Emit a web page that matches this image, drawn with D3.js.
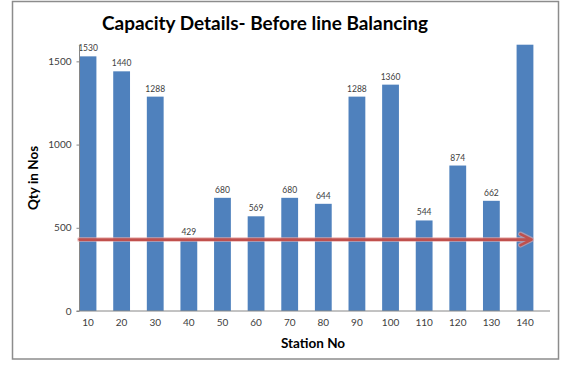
<!DOCTYPE html>
<html>
<head>
<meta charset="utf-8">
<script src="https://cdn.jsdelivr.net/npm/d3@7"></script>
<style>
  html, body { margin: 0; padding: 0; background: #fff; }
  svg { display: block; }
</style>
</head>
<body>
<svg id="chart" width="562" height="365"></svg>
<script>
// Station capacities before line balancing
const stations = ["10","20","30","40","50","60","70","80","90","100","110","120","130","140"];
const capacity = [1530,1440,1288,429,680,569,680,644,1288,1360,544,874,662,1600];
const yTicks = [0, 500, 1000, 1500];
const yMax = 1600;
const bottleneck = 429;   // lowest station capacity, drawn as the red arrow

const svg = d3.select("#chart");
const FONT = "Lato, 'Open Sans', sans-serif";

// outer chart frame
svg.append("rect")
  .attr("x", 12.5).attr("y", 1.5)
  .attr("width", 546).attr("height", 357.5)
  .attr("fill", "#fff").attr("stroke", "#8c8c8c").attr("stroke-width", 1.5);

const x = d3.scaleBand()
  .domain(stations)
  .range([71.2, 541.8])
  .paddingInner(0.5)
  .paddingOuter(0.25);

const y = d3.scaleLinear().domain([0, yMax]).range([311, 44.7]);

const axisX0 = 79.5, axisX1 = 550;

// bars
svg.append("g").selectAll("rect")
  .data(stations.map((s, i) => ({ s, v: capacity[i] })))
  .join("rect")
  .attr("x", d => x(d.s))
  .attr("y", d => y(Math.min(d.v, yMax)))
  .attr("width", x.bandwidth())
  .attr("height", d => y(0) - y(Math.min(d.v, yMax)))
  .attr("fill", "#4f81bd");

// value labels (hidden for bars that run past the axis maximum)
svg.append("g").selectAll("text")
  .data(stations.map((s, i) => ({ s, v: capacity[i] })).filter(d => d.v < yMax))
  .join("text")
  .attr("x", d => x(d.s) + x.bandwidth() / 2)
  .attr("y", d => y(d.v) - 5)
  .attr("text-anchor", "middle")
  .attr("font-family", FONT)
  .attr("font-size", 8.5)
  .attr("fill", "#404040")
  .text(d => d.v);

// y axis
const yAxis = d3.axisLeft(y).tickValues(yTicks).tickSize(3).tickPadding(5).tickFormat(d3.format("d"));
const gy = svg.append("g").attr("transform", `translate(${axisX0},0)`).call(yAxis);
gy.select(".domain").attr("stroke", "#868686").attr("d", `M-0,${y(yMax)}V${y(0)}`);
gy.selectAll(".tick line").attr("stroke", "#868686");
gy.selectAll(".tick text").attr("font-family", FONT).attr("font-size", 10).attr("fill", "#404040");

// x axis
const xAxis = d3.axisBottom(x).tickSize(0).tickPadding(8);
const gx = svg.append("g").attr("transform", `translate(0,${y(0)})`).call(xAxis);
gx.select(".domain").attr("stroke", "#868686").attr("d", `M${axisX0 - 3},0H${axisX1}`);
gx.selectAll(".tick text").attr("font-family", FONT).attr("font-size", 10).attr("fill", "#404040");

// bottleneck arrow
const ay = y(bottleneck);
const tipX = 531.5;
const arrow = svg.append("g").attr("fill", "none").attr("stroke-linecap", "round").attr("stroke-linejoin", "round");
arrow.append("path")
  .attr("d", `M${axisX0},${ay}H${tipX}M${tipX - 11},${ay - 5.5}L${tipX},${ay}L${tipX - 11},${ay + 5.5}`)
  .attr("stroke", "#e6a8a6").attr("stroke-width", 5).attr("opacity", 0.6);
arrow.append("path")
  .attr("d", `M${axisX0},${ay}H${tipX}M${tipX - 11},${ay - 5.5}L${tipX},${ay}L${tipX - 11},${ay + 5.5}`)
  .attr("stroke", "#c0504d").attr("stroke-width", 2.6);

// titles
svg.append("text")
  .attr("x", 265).attr("y", 30)
  .attr("text-anchor", "middle")
  .attr("font-family", FONT).attr("font-weight", "bold").attr("font-size", 19.5)
  .attr("textLength", 326).attr("lengthAdjust", "spacingAndGlyphs")
  .attr("fill", "#000")
  .text("Capacity Details- Before line Balancing");

svg.append("text")
  .attr("x", 313).attr("y", 348)
  .attr("text-anchor", "middle")
  .attr("font-family", FONT).attr("font-weight", "bold").attr("font-size", 13.5)
  .attr("fill", "#000")
  .text("Station No");

svg.append("text")
  .attr("transform", "translate(38,178) rotate(-90)")
  .attr("text-anchor", "middle")
  .attr("font-family", FONT).attr("font-weight", "bold").attr("font-size", 13.5)
  .attr("fill", "#000")
  .text("Qty in Nos");
</script>
</body>
</html>
